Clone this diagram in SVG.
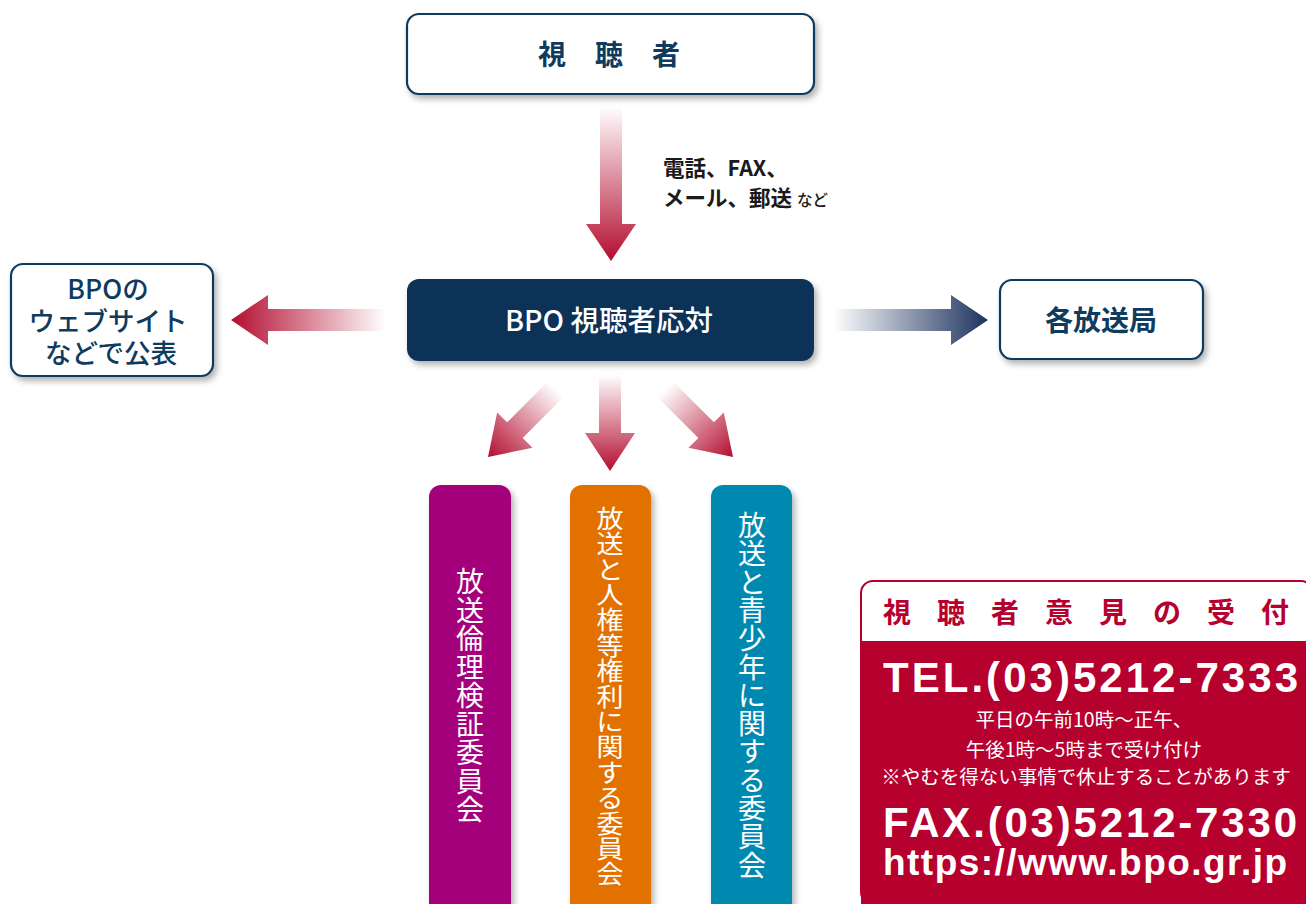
<svg xmlns="http://www.w3.org/2000/svg" width="1306" height="904" viewBox="0 0 1306 904">
<defs>
<style>
.jp{font-family:"Noto Sans CJK JP","Noto Sans",sans-serif}
.lat{font-family:"Liberation Sans","Noto Sans",sans-serif;font-weight:700}
.wbox{fill:#ffffff;stroke:#0e3a60;stroke-width:2.2}
.navy{fill:#0f3b5e}
.vt{fill:#ffffff;font-size:28px;text-anchor:middle}
</style>
<filter id="sh" x="-10%" y="-10%" width="125%" height="130%">
<feDropShadow dx="3" dy="4" stdDeviation="3" flood-color="#000" flood-opacity="0.3"/>
</filter>
<linearGradient id="gRed" x1="0" y1="0" x2="0" y2="1">
<stop offset="0" stop-color="#ffffff"/>
<stop offset="1" stop-color="#b30d30"/>
</linearGradient>
<linearGradient id="gNavy" x1="0" y1="0" x2="0" y2="1">
<stop offset="0" stop-color="#ffffff"/>
<stop offset="1" stop-color="#1d335e"/>
</linearGradient>
<path id="arrLong" d="M-11,-155 L11,-155 L11,-37 L25,-37 L0,0 L-25,-37 L-11,-37 Z"/>
<path id="arrShort" d="M-11,-96 L11,-96 L11,-38 L25,-38 L0,0 L-25,-38 L-11,-38 Z"/>
</defs>
<rect width="1306" height="904" fill="#ffffff"/>

<g id="connectors">
<use href="#arrLong" fill="url(#gRed)" transform="translate(611,261)"/>
<use href="#arrLong" fill="url(#gRed)" transform="translate(231,320) rotate(90)"/>
<use href="#arrLong" fill="url(#gNavy)" transform="translate(988,320) rotate(-90)"/>
<use href="#arrShort" fill="url(#gRed)" transform="translate(610,471)"/>
<use href="#arrShort" fill="url(#gRed)" transform="translate(488,457) rotate(45)"/>
<use href="#arrShort" fill="url(#gRed)" transform="translate(733,457) rotate(-45)"/>
<text class="jp" x="663" y="176" font-size="21.5" font-weight="700" fill="#1a1a1a">電話、FAX、</text>
<text class="jp" x="663" y="206" font-size="21.5" font-weight="700" fill="#1a1a1a">メール、郵送 <tspan font-size="15.5" font-weight="500">など</tspan></text>
</g>

<g id="node-viewer">
<rect class="wbox" x="407" y="14" width="407" height="80" rx="12" filter="url(#sh)"/>
<text class="jp navy" x="538" y="65" font-size="28" font-weight="700" letter-spacing="29">視聴者</text>
</g>

<g id="node-bpo">
<rect x="407" y="279" width="407" height="82" rx="12" fill="#0b3358" filter="url(#sh)"/>
<text class="jp" x="609" y="331" font-size="28.5" font-weight="500" fill="#ffffff" text-anchor="middle">BPO 視聴者応対</text>
</g>

<g id="node-web">
<rect class="wbox" x="11" y="264" width="202" height="112" rx="12" filter="url(#sh)"/>
<text class="jp navy" font-size="26.5" font-weight="500" text-anchor="middle">
<tspan x="111" y="299">BPOの</tspan>
<tspan x="111" y="331">ウェブサイト</tspan>
<tspan x="111" y="363">などで公表</tspan>
</text>
</g>

<g id="node-stations">
<rect class="wbox" x="1000" y="280" width="203" height="79" rx="12" filter="url(#sh)"/>
<text class="jp navy" x="1101" y="331" font-size="28" font-weight="700" text-anchor="middle">各放送局</text>
</g>

<g id="node-ethics">
<rect x="429" y="485" width="82" height="430" rx="12" fill="#a4007b" filter="url(#sh)"/>
<text class="jp vt" x="470 470 470 470 470 470 470 470 470" y="592 620.5 649 677.5 706 734.5 763 791.5 820">放送倫理検証委員会</text>
</g>

<g id="node-rights">
<rect x="570" y="485" width="81" height="430" rx="12" fill="#e37100" filter="url(#sh)"/>
<text class="jp vt" font-size="27" transform="matrix(1 0 0 0.907 0 47.15)" x="610 610 610 610 610 610 610 610 610 610 610 610 610 610 610" y="530 558 586 614 642 670 698 726 754 782 810 838 866 894 922" style="font-size:27px">放送と人権等権利に関する委員会</text>
</g>

<g id="node-youth">
<rect x="711" y="485" width="81" height="430" rx="12" fill="#0089b0" filter="url(#sh)"/>
<text class="jp vt" x="752 752 752 752 752 752 752 752 752 752 752 752 752" y="536 564.3 592.6 620.9 649.2 677.5 705.8 734.1 762.4 790.7 819 847.3 875.6">放送と青少年に関する委員会</text>
</g>

<g id="node-reception">
<rect x="861" y="581" width="452" height="323" rx="12" fill="#ffffff" stroke="#b6002e" stroke-width="2"/>
<path d="M861,641 L1313,641 L1313,904 L861,904 Z" fill="#b6002e"/>
<text class="jp" x="883 937 991 1045 1099 1153 1207 1261" y="623" font-size="28" font-weight="700" fill="#b6002e">視聴者意見の受付</text>
<text class="lat" x="883" y="692" font-size="42" fill="#ffffff" textLength="415" lengthAdjust="spacing">TEL.(03)5212-7333</text>
<text class="jp" font-size="19.5" fill="#ffffff" text-anchor="middle">
<tspan x="1086" y="727">平日の午前10時〜正午、</tspan>
<tspan x="1086" y="757">午後1時〜5時まで受け付け</tspan>
<tspan x="1086" y="784">※やむを得ない事情で休止することがあります</tspan>
</text>
<text class="lat" x="883" y="837" font-size="42" fill="#ffffff" textLength="414" lengthAdjust="spacing">FAX.(03)5212-7330</text>
<text class="lat" x="883" y="875" font-size="37" fill="#ffffff" textLength="404" lengthAdjust="spacing">https://www.bpo.gr.jp</text>
</g>
</svg>
